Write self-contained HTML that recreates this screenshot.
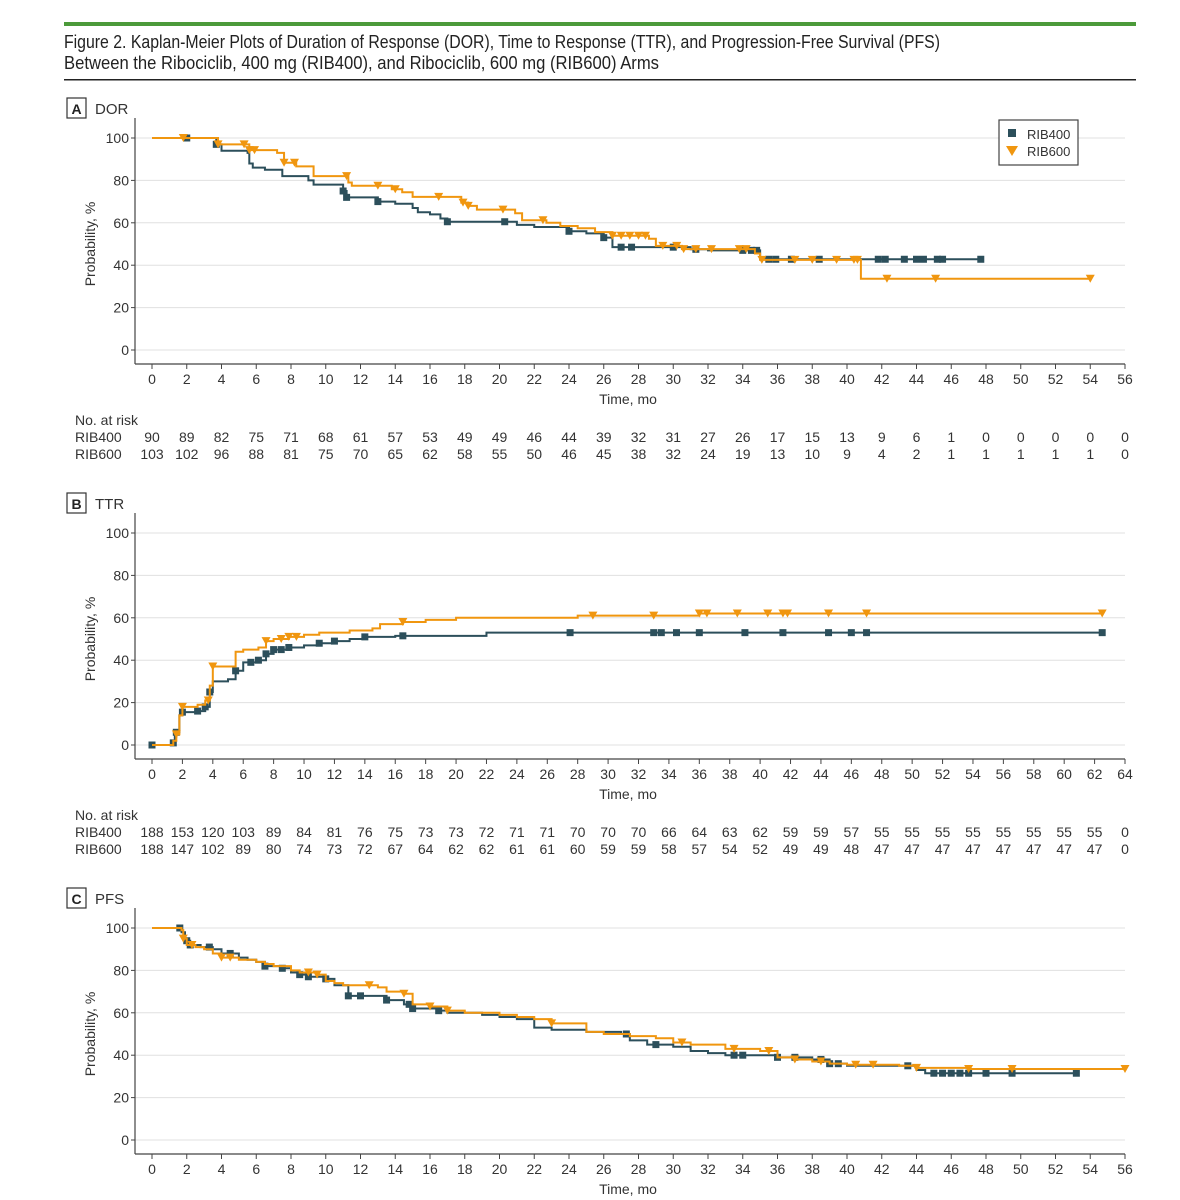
<!DOCTYPE html>
<html><head><meta charset="utf-8"><style>
html,body{margin:0;padding:0;background:#fff}
svg{display:block;font-family:"Liberation Sans Narrow","Liberation Sans",sans-serif}
</style></head><body>
<svg id="fig" width="1180" height="1200" viewBox="0 0 1180 1200" xmlns="http://www.w3.org/2000/svg">
<rect x="64" y="22" width="1072" height="4" fill="#4c9a3a"/>
<text x="64" y="48" font-size="18" fill="#222" textLength="876" lengthAdjust="spacingAndGlyphs">Figure 2. Kaplan-Meier Plots of Duration of Response (DOR), Time to Response (TTR), and Progression-Free Survival (PFS)</text>
<text x="64" y="69" font-size="18" fill="#222" textLength="595" lengthAdjust="spacingAndGlyphs">Between the Ribociclib, 400 mg (RIB400), and Ribociclib, 600 mg (RIB600) Arms</text>
<rect x="64" y="79" width="1072" height="1.5" fill="#222"/>
</svg>
<script>
// ---------- Panel A: DOR ----------
const dorTicks = [0,2,4,6,8,10,12,14,16,18,20,22,24,26,28,30,32,34,36,38,40,42,44,46,48,50,52,54,56];
const dorR400T = [0,3.7,4,5.5,5.6,5.8,6.5,7.5,9,9.3,11,11.2,13,14,15,15.3,16,16.6,17,21,22,24,25,26,26.5,31,32,35];
const dorR400V = [100,97,94,93,88,86,85,82,80,78,75,72,70,69,67,65,64,62,60.5,59,58,56,55,53,48.5,47.5,47,42.8];
const dorR400End = 47.7;
const dorR400Cens = [2,3.7,11,11.2,13,17,20.3,24,26,27,27.6,30,31.3,34,34.5,34.8,35.5,35.9,36.8,38.4,41.8,42.2,43.3,44,44.4,45.2,45.5,47.7];
const dorR600T = [0,3.8,5.6,7.2,7.6,8.3,9.3,11.3,11.5,13.8,14.4,15,17.8,18.2,18.7,20.9,21.3,22.7,23.5,24.5,25.5,26.5,28.6,29,30.5,34.7,35,40.8];
const dorR600V = [100,97,94.3,93,88.3,86.6,82,79,77.5,75.8,74.4,72.2,69.5,68,66.2,64.5,61.2,60,58.5,57.4,55.6,53.9,52.5,49.1,47.6,45.5,42.5,33.6];
const dorR600End = 54;
const dorR600Cens = [1.8,3.8,5.3,5.6,5.9,7.6,8.2,11.2,13,14,16.5,17.9,18.2,20.2,22.5,26.5,27,27.5,28,28.4,29.4,30.2,30.6,31.3,32.2,33.8,34.2,35.1,37,38,39.4,40.4,40.6,42.3,45.1,54];
const dorRisk400 = [90,89,82,75,71,68,61,57,53,49,49,46,44,39,32,31,27,26,17,15,13,9,6,1,0,0,0,0,0];
const dorRisk600 = [103,102,96,88,81,75,70,65,62,58,55,50,46,45,38,32,24,19,13,10,9,4,2,1,1,1,1,1,0];

// ---------- Panel B: TTR ----------
const ttrTicks = [0,2,4,6,8,10,12,14,16,18,20,22,24,26,28,30,32,34,36,38,40,42,44,46,48,50,52,54,56,58,60,62,64];
const ttrR400T = [0,1.3,1.5,1.6,1.8,2,3,3.5,3.8,4,5,5.5,6,7,7.5,8,9,10,11,12,13,14,16,22];
const ttrR400V = [0,1,4,6,14,15.5,16,18,25,30,31,35,39,40,43,45,46,47,48,49,50,51,51.5,53];
const ttrR400End = 62.5;
const ttrR400Cens = [0,1.4,1.6,2,3,3.5,3.8,5.5,6.5,7,7.5,8,8.5,9,11,12,14,16.5,27.5,33,33.5,34.5,36,39,41.5,44.5,46,47,62.5];
const ttrR600T = [0,1.4,1.6,1.8,2,3,3.5,3.8,4,5.5,6,7,7.5,8,9,10,11,13,14.5,15,16.5,18,20,28,36];
const ttrR600V = [0,2,5,14,18,19,21,28,37,44,45,46,49,50,51,52,53,54,55,57,58,59,60,61,62];
const ttrR600End = 62.5;
const ttrR600Cens = [1.6,2,3.7,4,7.5,8.5,9,9.5,16.5,29,33,36,36.5,38.5,40.5,41.5,41.8,44.5,47,62.5];
const ttrRisk400 = [188,153,120,103,89,84,81,76,75,73,73,72,71,71,70,70,70,66,64,63,62,59,59,57,55,55,55,55,55,55,55,55,0];
const ttrRisk600 = [188,147,102,89,80,74,73,72,67,64,62,62,61,61,60,59,59,58,57,54,52,49,49,48,47,47,47,47,47,47,47,47,0];

// ---------- Panel C: PFS ----------
const pfsTicks = dorTicks;
const pfsR400T = [0,1.7,1.9,2.2,2.8,3.5,4,5,5.5,6,6.5,7.5,8,8.5,9,10,10.5,11.3,13.5,14.5,15,16.5,17,19,20,21,22,23,25,27,27.5,28.5,30,31,32,33,36,38,39,40,44,44.5];
const pfsR400V = [100,98,94,92,91,90,88,86,85,84,82,81,79,78,77,76,73,68,66,64,62,61,60,59,58,57,53,52,51,50,47,45,44,42,41,40,39,38,36,35,33,31.5];
const pfsR400End = 53.2;
const pfsR400Cens = [1.6,2,2.2,3.3,4.5,6.5,7.5,8.5,9,10,11.3,12,13.5,14.8,15,16.5,27.3,29,33.5,34,36,37,38.5,39,39.5,43.5,45,45.5,46,46.5,47,48,49.5,53.2];
const pfsR600T = [0,1.7,1.8,2,2.5,3,3.5,4,5,6,6.5,7,8,8.5,9.5,10,10.5,11,13,13.5,14.5,15,16,17,18,20,21,22,23,25,26,27.5,29,30,31,33,35,36,37,38,39,40,43,44,47];
const pfsR600V = [100,99,95,92,91,90,88,86,85,84,83,82,80,79,78,75,74,73,72,70,69,64,63,61,60,59,58,57,55,51,50,49,48,46,45,43,42,39,38,37,36,35.5,35,34,33.5];
const pfsR600End = 56;
const pfsR600Cens = [1.8,2.3,4,4.5,9,9.5,12.5,14.5,16,17,23,30.5,33.5,35.5,37,38.5,40.5,41.5,44,47,49.5,56];

const yTicks = [0,20,40,60,80,100];
const TEAL = "#2c4f5b", ORANGE = "#f0960f";
const svg = document.getElementById('fig');
const NS = "http://www.w3.org/2000/svg";
function mk(tag, attrs, parent) {
  const e = document.createElementNS(NS, tag);
  for (const k in attrs) e.setAttribute(k, attrs[k]);
  (parent || svg).appendChild(e);
  return e;
}
function txt(s, attrs, parent) { const e = mk('text', attrs, parent); e.textContent = s; return e; }

function valAt(ts, vs, t) { let v = vs[0]; for (let i = 0; i < ts.length; i++) if (ts[i] <= t) v = vs[i]; return v; }

function panel(off, letter, name, ticks, xmax, s400, s600, risk400, risk600) {
  const g = mk('g', {});
  
  
  const X0 = 152, X1 = 1125, Y100 = 138 + off, Y0 = 350 + off, AX = 364 + off, AL = 135;
  const xs = t => X0 + (X1 - X0) * t / xmax;
  const ys = v => Y0 + (Y100 - Y0) * v / 100;
  // label box
  const lb = mk('rect', {x: 67, y: 98 + off, width: 19, height: 20, fill: 'none', stroke: '#333', 'stroke-width': 1.2}, g);
  
  
  const lt = txt(letter, {x: 76.5, y: 114 + off, 'font-size': 14, 'font-weight': 'bold', 'text-anchor': 'middle', fill: '#222'}, g);
  
  
  const nt = txt(name, {x: 95, y: 114 + off, 'font-size': 15, fill: '#333'}, g);
  
  
  // grid + y ticks
  yTicks.forEach(v => {
    const gl = mk('line', {x1: AL, x2: X1, y1: ys(v), y2: ys(v), stroke: '#e0e0e0', 'stroke-width': 1}, g);
    
    
    mk('line', {x1: AL - 4, x2: AL, y1: ys(v), y2: ys(v), stroke: '#444'}, g);
    const tl = txt(String(v), {x: AL - 6, y: ys(v) + 5, 'font-size': 14, 'text-anchor': 'end', fill: '#333'}, g);
    
    
  });
  const ya = mk('line', {x1: AL, x2: AL, y1: 118 + off, y2: AX, stroke: '#444', 'stroke-width': 1.2}, g);
  
  
  const xa = mk('line', {x1: AL, x2: X1, y1: AX, y2: AX, stroke: '#444', 'stroke-width': 1.2}, g);
  
  
  ticks.forEach(t => {
    mk('line', {x1: xs(t), x2: xs(t), y1: AX, y2: AX + 5, stroke: '#444'}, g);
    const tl = txt(String(t), {x: xs(t), y: AX + 20, 'font-size': 14, 'text-anchor': 'middle', fill: '#333'}, g);
    
    
  });
  const xt = txt('Time, mo', {x: 628, y: AX + 40, 'font-size': 14, 'text-anchor': 'middle', fill: '#333'}, g);
  
  
  const yt = txt('Probability, %', {x: 0, y: 0, 'font-size': 14, 'text-anchor': 'middle', fill: '#333', transform: `translate(95,${(Y0 + Y100) / 2}) rotate(-90)`}, g);
  
  
  // series
  [[s400, TEAL, 'rib400'], [s600, ORANGE, 'rib600']].forEach(([s, col, nm]) => {
    let d = `M${xs(s.t[0])},${ys(s.v[0])}`;
    for (let i = 1; i < s.t.length; i++) d += `H${xs(s.t[i])}V${ys(s.v[i])}`;
    d += `H${xs(s.end)}`;
    const p = mk('path', {d, fill: 'none', stroke: col, 'stroke-width': 2}, g);
    
    
    s.c.forEach(t => {
      const cx = xs(t), cy = ys(valAt(s.t, s.v, t));
      let m;
      if (nm === 'rib400') m = mk('rect', {x: cx - 3.5, y: cy - 3.5, width: 7, height: 7, fill: col}, g);
      else m = mk('polygon', {points: `${cx - 4.5},${cy - 4} ${cx + 4.5},${cy - 4} ${cx},${cy + 4}`, fill: col}, g);
      
      
    });
  });
  // at-risk table
  if (risk400) {
    const h = txt('No. at risk', {x: 75, y: 425 + off, 'font-size': 14, fill: '#333'}, g);
    
    
    [[risk400, 'RIB400', 442], [risk600, 'RIB600', 459]].forEach(([arr, lab, yy]) => {
      const l = txt(lab, {x: 75, y: yy + off, 'font-size': 14, fill: '#333'}, g);
      
      
      arr.forEach((n, i) => {
        const c = txt(String(n), {x: xs(ticks[i]), y: yy + off, 'font-size': 14, 'text-anchor': 'middle', fill: '#333'}, g);
        
        
      });
    });
  }
}

panel(0, 'A', 'DOR', dorTicks, 56,
  {t: dorR400T, v: dorR400V, end: dorR400End, c: dorR400Cens},
  {t: dorR600T, v: dorR600V, end: dorR600End, c: dorR600Cens}, dorRisk400, dorRisk600);
panel(395, 'B', 'TTR', ttrTicks, 64,
  {t: ttrR400T, v: ttrR400V, end: ttrR400End, c: ttrR400Cens},
  {t: ttrR600T, v: ttrR600V, end: ttrR600End, c: ttrR600Cens}, ttrRisk400, ttrRisk600);
panel(790, 'C', 'PFS', pfsTicks, 56,
  {t: pfsR400T, v: pfsR400V, end: pfsR400End, c: pfsR400Cens},
  {t: pfsR600T, v: pfsR600V, end: pfsR600End, c: pfsR600Cens}, null, null);

// legend
const lg = mk('g', {});


mk('rect', {x: 999, y: 120, width: 79, height: 45, fill: '#fff', stroke: '#444', 'stroke-width': 1.2}, lg);
const li1 = mk('rect', {x: 1008, y: 129, width: 8, height: 8, fill: TEAL}, lg);


const lt1 = txt('RIB400', {x: 1027, y: 139, 'font-size': 13, fill: '#333'}, lg);


const li2 = mk('polygon', {points: '1006,146 1018,146 1012,156', fill: ORANGE}, lg);


const lt2 = txt('RIB600', {x: 1027, y: 156, 'font-size': 13, fill: '#333'}, lg);


</script>
</body></html>
